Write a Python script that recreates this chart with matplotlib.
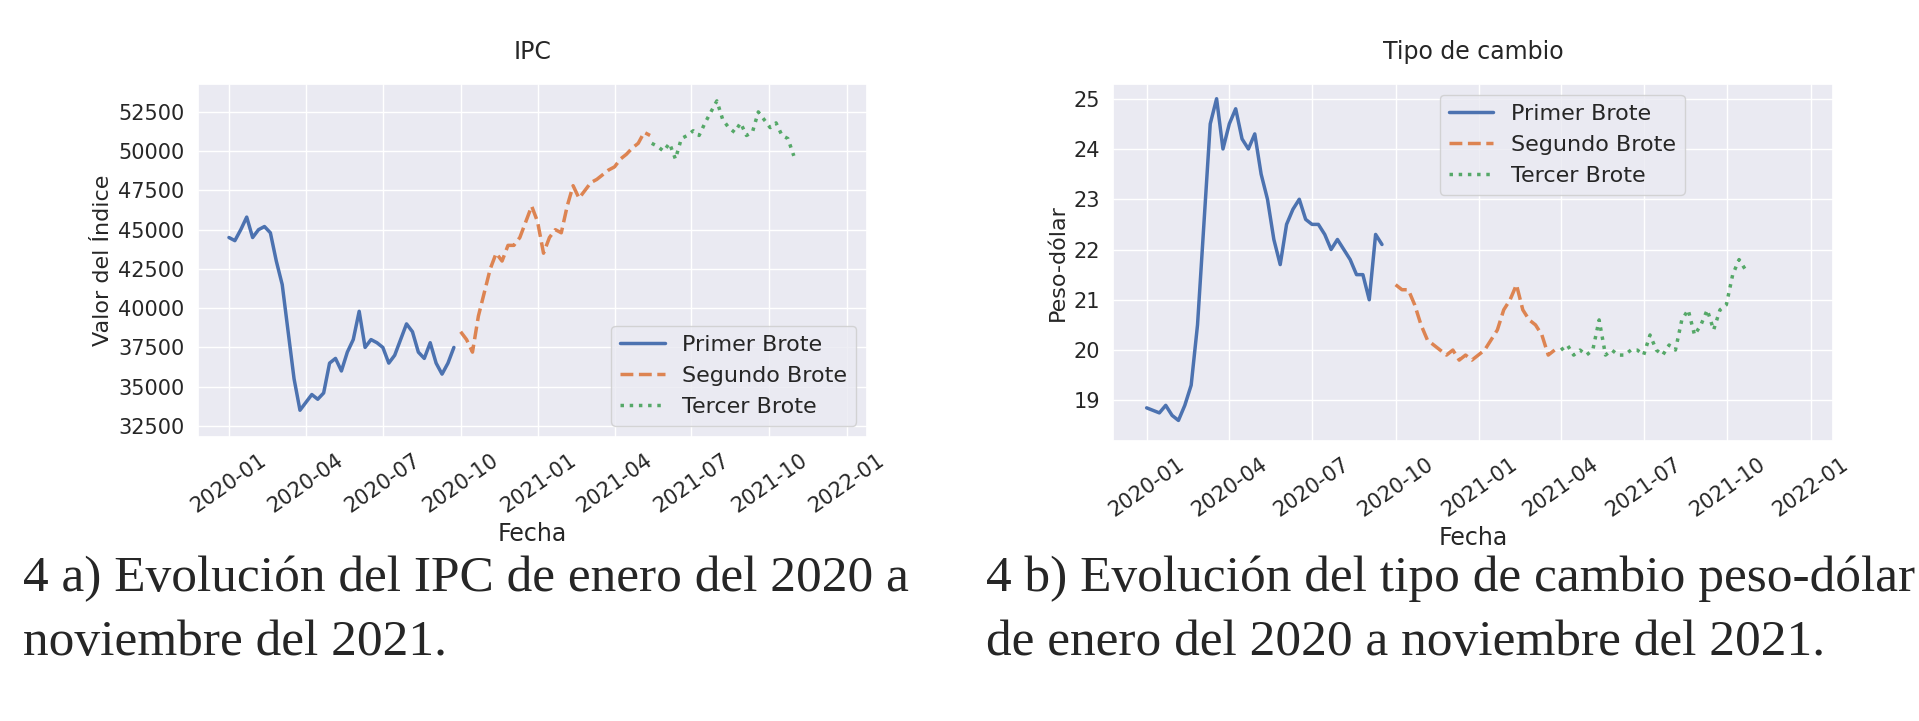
import pandas as pd
import seaborn as sns
from matplotlib import pyplot as plt

sns.set_theme(style="darkgrid")

# IPC, valores semanales aproximados
ipc_1 = [44500, 44300, 45000, 45800, 44500, 45000, 45200, 44800, 43000,
         41500, 38500, 35500, 33500, 34000, 34500, 34200, 34600,
         36500, 36800, 36000, 37200, 38000, 39800, 37500, 38000, 37800,
         37500, 36500, 37000, 38000, 39000, 38500, 37200, 36800, 37800,
         36500, 35800, 36500, 37500]
ipc_2 = [38500, 38000, 37200, 39500, 41000, 42500, 43500, 43000, 44000,
         44000, 44500, 45500, 46500, 45500, 43500, 44500, 45000, 44800,
         46500, 47800, 47000, 47500, 48000, 48200, 48500, 48800,
         49000, 49500, 49800, 50200, 50500, 51200, 51000]
ipc_3 = [50500, 50300, 50000, 50500, 49500, 50800, 51000, 51300, 51000, 51800,
         52500, 53200, 52000, 51500, 51200, 51800, 51000, 51200,
         52500, 52000, 51500, 51800, 51000, 50800, 49700]

# tipo de cambio peso-dolar
tc_1 = [18.85, 18.8, 18.75, 18.9, 18.7, 18.6, 18.9, 19.3,
        20.5, 22.5, 24.5, 25.0, 24.0, 24.5, 24.8, 24.2, 24.0,
        24.3, 23.5, 23.0, 22.2, 21.7, 22.5, 22.8, 23.0,
        22.6, 22.5, 22.5, 22.3, 22.0, 22.2, 22.0, 21.8, 21.5,
        21.5, 21.0, 22.3, 22.1]
tc_2 = [21.3, 21.2, 21.2, 20.9, 20.5, 20.2, 20.1, 20.0, 19.9, 20.0, 19.8, 19.9,
        19.8, 19.9, 20.0, 20.2, 20.4, 20.8, 21.0, 21.3, 20.8, 20.6, 20.5, 20.3,
        19.9, 20.0]
tc_3 = [20.0, 20.1, 19.9, 20.0, 19.9, 20.0, 20.6, 19.9, 20.0, 19.9,
        19.9, 20.0, 20.0, 19.9, 20.3, 20.0, 19.9, 20.1, 20.0, 20.6, 20.8, 20.3,
        20.5, 20.8, 20.4, 20.8, 20.9, 21.5, 21.8, 21.6]

labels = ["Primer Brote", "Segundo Brote", "Tercer Brote"]
estilos = ["-", "--", ":"]
colores = sns.color_palette()[:3]
ticks = pd.date_range("2020-01-01", "2022-01-01", freq="3MS")


def fechas(inicio, n):
    return pd.date_range(inicio, periods=n, freq="7D")


fig = plt.figure(figsize=(19.19, 7.21), dpi=100)
fig.patch.set_facecolor("white")

ax1 = fig.add_axes([0.103, 0.394, 0.349, 0.49])
ax2 = fig.add_axes([0.580, 0.389, 0.375, 0.495])

series1 = [(fechas("2020-01-01", len(ipc_1)), ipc_1),
           (fechas("2020-10-01", len(ipc_2)), ipc_2),
           (fechas("2021-05-15", len(ipc_3)), ipc_3)]
series2 = [(fechas("2020-01-01", len(tc_1)), tc_1),
           (fechas("2020-10-01", len(tc_2)), tc_2),
           (fechas("2021-04-01", len(tc_3)), tc_3)]

for ax, series in [(ax1, series1), (ax2, series2)]:
    for (x, y), lab, ls, c in zip(series, labels, estilos, colores):
        ax.plot(x, y, ls, color=c, label=lab, lw=2.5)
    ax.set_xticks(ticks)
    ax.set_xticklabels([t.strftime("%Y-%m") for t in ticks], rotation=35, fontsize=15)
    ax.set_xlim(pd.Timestamp("2019-11-25"), pd.Timestamp("2022-01-25"))
    ax.tick_params(axis="y", labelsize=15)
    ax.set_xlabel("Fecha", fontsize=17)

ax1.set_title("IPC", fontsize=17, pad=18)
ax1.set_ylabel("Valor del Índice", fontsize=16)
ax1.set_yticks([32500, 35000, 37500, 40000, 42500, 45000, 47500, 50000, 52500])
ax1.set_ylim(31800, 54300)
ax1.legend(loc="lower right", fontsize=16)

ax2.set_title("Tipo de cambio", fontsize=17, pad=18)
ax2.set_ylabel("Peso-dólar", fontsize=16)
ax2.set_ylim(18.2, 25.3)
ax2.legend(loc="upper right", bbox_to_anchor=(0.81, 1.0), fontsize=16)

fig.text(0.012, 0.42 - 0.19, "4 a) Evolución del IPC de enero del 2020 a\nnoviembre del 2021.",
         fontsize=37, family="Liberation Serif", va="top", linespacing=1.5)
fig.text(0.514, 0.42 - 0.19, "4 b) Evolución del tipo de cambio peso-dólar\nde enero del 2020 a noviembre del 2021.",
         fontsize=37, family="Liberation Serif", va="top", linespacing=1.5)

fig.savefig("out.png", dpi=100)
